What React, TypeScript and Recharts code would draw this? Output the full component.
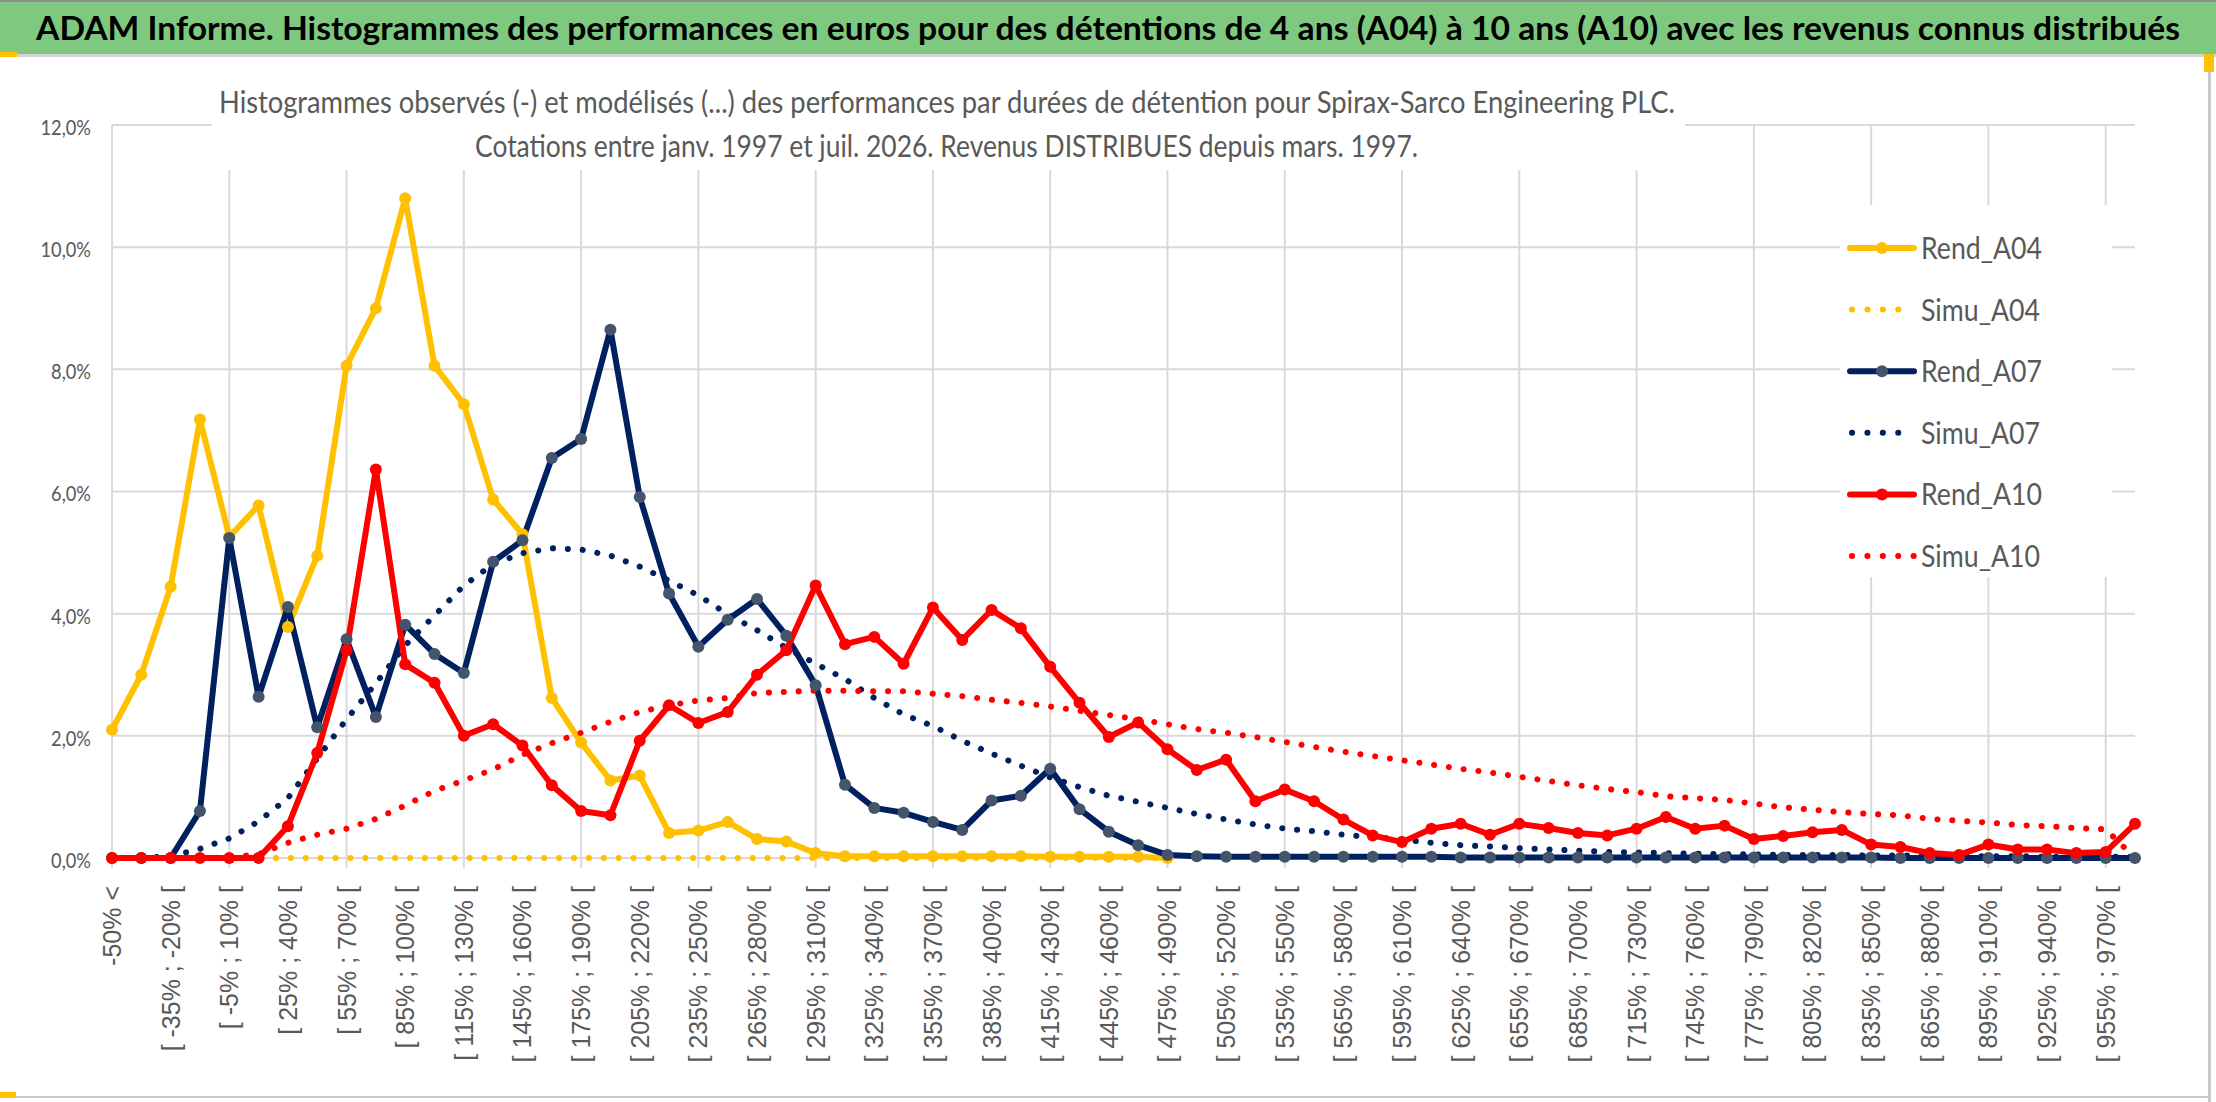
import React from 'react';
import { LineChart, Line, XAxis, YAxis, CartesianGrid } from 'recharts';

const categories = [
  '-50% <', '[ -50% ; -35% [', '[ -35% ; -20% [', '[ -20% ; -5% [', '[ -5% ; 10% [',
  '[ 10% ; 25% [', '[ 25% ; 40% [', '[ 40% ; 55% [', '[ 55% ; 70% [', '[ 70% ; 85% [',
  '[ 85% ; 100% [', '[ 100% ; 115% [', '[ 115% ; 130% [', '[ 130% ; 145% [', '[ 145% ; 160% [',
  '[ 160% ; 175% [', '[ 175% ; 190% [', '[ 190% ; 205% [', '[ 205% ; 220% [', '[ 220% ; 235% [',
  '[ 235% ; 250% [', '[ 250% ; 265% [', '[ 265% ; 280% [', '[ 280% ; 295% [', '[ 295% ; 310% [',
  '[ 310% ; 325% [', '[ 325% ; 340% [', '[ 340% ; 355% [', '[ 355% ; 370% [', '[ 370% ; 385% [',
  '[ 385% ; 400% [', '[ 400% ; 415% [', '[ 415% ; 430% [', '[ 430% ; 445% [', '[ 445% ; 460% [',
  '[ 460% ; 475% [', '[ 475% ; 490% [', '[ 490% ; 505% [', '[ 505% ; 520% [', '[ 520% ; 535% [',
  '[ 535% ; 550% [', '[ 550% ; 565% [', '[ 565% ; 580% [', '[ 580% ; 595% [', '[ 595% ; 610% [',
  '[ 610% ; 625% [', '[ 625% ; 640% [', '[ 640% ; 655% [', '[ 655% ; 670% [', '[ 670% ; 685% [',
  '[ 685% ; 700% [', '[ 700% ; 715% [', '[ 715% ; 730% [', '[ 730% ; 745% [', '[ 745% ; 760% [',
  '[ 760% ; 775% [', '[ 775% ; 790% [', '[ 790% ; 805% [', '[ 805% ; 820% [', '[ 820% ; 835% [',
  '[ 835% ; 850% [', '[ 850% ; 865% [', '[ 865% ; 880% [', '[ 880% ; 895% [', '[ 895% ; 910% [',
  '[ 910% ; 925% [', '[ 925% ; 940% [', '[ 940% ; 955% [', '[ 955% ; 970% [', '[ 970% ; 985% [',
];

// values in %
const rendA04 = [
  2.1, 3.0, 4.44, 7.18, 5.26, 5.77, 3.78, 4.95, 8.06, 9.0,
  10.8, 8.06, 7.43, 5.87, 5.3, 2.62, 1.89, 1.27, 1.35, 0.41,
  0.45, 0.59, 0.31, 0.27, 0.08, 0.03, 0.03, 0.03, 0.03, 0.03,
  0.03, 0.03, 0.02, 0.02, 0.02, 0.02, 0.0,
];

const simuA04 = [
  0, 0, 0, 0, 0, 0, 0, 0, 0, 0,
  0, 0, 0, 0, 0, 0, 0, 0, 0, 0,
  0, 0, 0, 0, 0, 0, 0, 0, 0, 0,
  0, 0, 0, 0, 0, 0, 0,
];

const rendA07 = [
  0, 0, 0, 0.77, 5.24, 2.64, 4.11, 2.14, 3.58, 2.31,
  3.82, 3.34, 3.03, 4.85, 5.2, 6.55, 6.86, 8.65, 5.91, 4.33,
  3.46, 3.9, 4.24, 3.64, 2.83, 1.2, 0.82, 0.74, 0.59, 0.46,
  0.94, 1.02, 1.46, 0.8, 0.43, 0.21, 0.05, 0.03, 0.02, 0.02,
  0.02, 0.02, 0.02, 0.02, 0.02, 0.02, 0.01, 0.01, 0.01, 0.01,
  0.01, 0.01, 0.01, 0.01, 0.01, 0.01, 0.01, 0.01, 0.01, 0.01,
  0.01, 0, 0, 0, 0, 0, 0, 0, 0, 0,
];

const simuA07 = [
  0, 0, 0.03, 0.15, 0.32, 0.6, 0.98, 1.63, 2.27, 2.86,
  3.48, 3.97, 4.46, 4.81, 4.99, 5.07, 5.05, 4.95, 4.77, 4.54,
  4.3, 3.99, 3.73, 3.44, 3.18, 2.93, 2.62, 2.35, 2.16, 1.92,
  1.71, 1.51, 1.32, 1.16, 1.02, 0.92, 0.82, 0.72, 0.63, 0.55,
  0.48, 0.44, 0.38, 0.34, 0.3, 0.25, 0.21, 0.19, 0.16, 0.14,
  0.12, 0.1, 0.09, 0.08, 0.07, 0.06, 0.06, 0.05, 0.05, 0.05,
  0.04, 0.04, 0.04, 0.03, 0.03, 0.03, 0.02, 0.02, 0.02, 0.02,
];

const rendA10 = [
  0, 0, 0, 0, 0, 0, 0.52, 1.72, 3.4, 6.36,
  3.17, 2.87, 2.0, 2.19, 1.84, 1.19, 0.77, 0.7, 1.92, 2.5,
  2.21, 2.39, 3.0, 3.4, 4.46, 3.5, 3.62, 3.18, 4.1, 3.57,
  4.06, 3.76, 3.13, 2.54, 1.98, 2.22, 1.78, 1.44, 1.61, 0.93,
  1.12, 0.93, 0.63, 0.37, 0.26, 0.48, 0.56, 0.38, 0.56, 0.49,
  0.41, 0.37, 0.48, 0.67, 0.48, 0.53, 0.31, 0.36, 0.42, 0.46,
  0.22, 0.18, 0.08, 0.05, 0.22, 0.14, 0.14, 0.08, 0.1, 0.56,
];

const simuA10 = [
  0, 0, 0, 0, 0.01, 0.06, 0.25, 0.38, 0.48, 0.64,
  0.86, 1.1, 1.27, 1.45, 1.69, 1.88, 2.05, 2.23, 2.39, 2.5,
  2.58, 2.62, 2.7, 2.72, 2.74, 2.74, 2.73, 2.73, 2.69, 2.65,
  2.59, 2.54, 2.48, 2.41, 2.34, 2.27, 2.19, 2.11, 2.05, 1.98,
  1.9, 1.82, 1.74, 1.67, 1.6, 1.53, 1.46, 1.4, 1.33, 1.26,
  1.19, 1.13, 1.08, 1.01, 0.98, 0.95, 0.89, 0.83, 0.79, 0.75,
  0.72, 0.7, 0.64, 0.61, 0.58, 0.54, 0.52, 0.49, 0.47, 0,
];

const yTicks = [0, 2, 4, 6, 8, 10, 12];

const seriesInfo = [
  { key: 'rendA04', name: 'Rend_A04', color: '#FFC000', marker: '#FFC000', dotted: false, dots: 0 },
  { key: 'simuA04', name: 'Simu_A04', color: '#FFC000', marker: '', dotted: true, dots: 4 },
  { key: 'rendA07', name: 'Rend_A07', color: '#002060', marker: '#44546A', dotted: false, dots: 0 },
  { key: 'simuA07', name: 'Simu_A07', color: '#002060', marker: '', dotted: true, dots: 4 },
  { key: 'rendA10', name: 'Rend_A10', color: '#FF0000', marker: '#FF0000', dotted: false, dots: 0 },
  { key: 'simuA10', name: 'Simu_A10', color: '#FF0000', marker: '', dotted: true, dots: 5 },
];

const data = categories.map((cat, i) => ({
  cat,
  rendA04: rendA04[i] ?? null,
  simuA04: simuA04[i] ?? null,
  rendA07: rendA07[i] ?? null,
  simuA07: simuA07[i] ?? null,
  rendA10: rendA10[i] ?? null,
  simuA10: simuA10[i] ?? null,
}));

const TITLE =
  'ADAM Informe. Histogrammes des performances en euros pour des détentions de 4 ans (A04) à 10 ans (A10) avec les revenus connus distribués';
const SUB1 =
  'Histogrammes observés (-) et modélisés (...) des performances par durées de détention pour Spirax-Sarco Engineering PLC.';
const SUB2 = 'Cotations entre janv. 1997 et juil. 2026. Revenus DISTRIBUES depuis mars. 1997.';

const FONT = "Lato, 'Open Sans', sans-serif";
const GRID = '#d9d9d9';
const TEXT = '#595959';

// vertical grid every 4 categories
const gridCats = categories.filter((_, i) => i % 4 === 0);

const XTick = (props: any) => {
  const { x, y, payload } = props;
  return (
    <g transform={`translate(${x},${y})`}>
      <text
        transform="rotate(-90)"
        textAnchor="end"
        dy="0.36em"
        fill={TEXT}
        fontSize={25}
        fontFamily="'Liberation Sans', Arial, sans-serif"
      >
        {payload.value}
      </text>
    </g>
  );
};

const YTick = (props: any) => {
  const { x, y, payload } = props;
  return (
    <g transform={`translate(${x},${y})`}>
      <text transform="scale(0.83,1)" textAnchor="end" dy="0.45em" fill={TEXT} fontSize={22} fontFamily={FONT}>
        {`${payload.value.toFixed(1).replace('.', ',')}%`}
      </text>
    </g>
  );
};

export default function App() {
  return (
    <div style={{ position: 'absolute', left: 0, top: 0, width: 2216, height: 1102, overflow: 'hidden', background: '#fff' }}>
      <div style={{ position: 'absolute', left: 0, top: 0 }}>
        <LineChart width={2216} height={1102} data={data} margin={{ top: 125, right: 81, left: 0, bottom: 0 }}>
          <CartesianGrid
            stroke={GRID}
            strokeWidth={2}
            verticalCoordinatesGenerator={({ xAxis, offset }: any) => {
              if (xAxis && typeof xAxis.scale === 'function') {
                return gridCats.map((c) => xAxis.scale(c));
              }
              const step = offset.width / (categories.length - 1);
              return gridCats.map((_, k) => offset.left + k * 4 * step);
            }}
            vertical={(p: any) => (
              <line key={p.key} x1={p.x1} x2={p.x2} y1={p.y1} y2={p.y2 + 10} stroke={GRID} strokeWidth={2} />
            )}
          />
          <XAxis
            dataKey="cat"
            interval={1}
            tick={<XTick />}
            tickLine={false}
            axisLine={false}
            tickSize={0}
            tickMargin={28}
            height={244}
          />
          <YAxis
            domain={[0, 12]}
            ticks={yTicks}
            axisLine={false}
            tickLine={false}
            tickSize={0}
            tickMargin={21}
            width={112}
            tick={<YTick />}
          />
          {seriesInfo.map((s) =>
            s.dotted ? (
              <Line
                key={s.key}
                dataKey={s.key}
                stroke={s.color}
                strokeWidth={6}
                strokeDasharray="0.1 14.8"
                strokeLinecap="round"
                strokeLinejoin="round"
                dot={false}
                activeDot={false}
                isAnimationActive={false}
              />
            ) : (
              <Line
                key={s.key}
                dataKey={s.key}
                stroke={s.color}
                strokeWidth={6}
                strokeLinejoin="round"
                dot={{ r: 6, fill: s.marker, stroke: s.marker, strokeWidth: 0 }}
                activeDot={false}
                isAnimationActive={false}
              />
            )
          )}
        </LineChart>
      </div>

      {/* frame, title, subtitle and legend drawn over the chart */}
      <svg width={2216} height={1102} style={{ position: 'absolute', left: 0, top: 0 }}>
        <rect x={0} y={0} width={2216} height={54} fill="#7EC97F" />
        <rect x={0} y={0} width={2216} height={2} fill="#8c8c8c" />
        <rect x={0} y={54} width={2216} height={3} fill="#d4d4d4" />
        <rect x={0} y={52} width={17} height={5} fill="#FFC000" />
        <rect x={2208} y={57} width={3} height={1045} fill="#c8c8c8" />
        <rect x={2204} y={54} width={10} height={18} fill="#FFC000" />
        <rect x={0} y={1096} width={2210} height={2} fill="#c8c8c8" />
        <rect x={0} y={1092} width={16} height={6} fill="#FFC000" />
        <text x={36} y={40} fontFamily={FONT} fontWeight={700} fontSize={32} fill="#000"
          textLength={2144} lengthAdjust="spacingAndGlyphs">
          {TITLE}
        </text>

        <rect x={212} y={60} width={1473} height={110} fill="#fff" />
        <text x={219} y={113} fontFamily={FONT} fontSize={30} fill={TEXT}
          textLength={1456} lengthAdjust="spacingAndGlyphs">
          {SUB1}
        </text>
        <text x={475} y={157} fontFamily={FONT} fontSize={30} fill={TEXT}
          textLength={943} lengthAdjust="spacingAndGlyphs">
          {SUB2}
        </text>

        <rect x={1840} y={205} width={272} height={372} fill="#fff" />
        {seriesInfo.map((s, i) => {
          const cy = 248 + i * 61.6;
          return (
            <g key={s.key}>
              {s.dotted ? (
                <line x1={1852} y1={cy} x2={1852 + (s.dots - 1) * 15.4 + 0.1} y2={cy} stroke={s.color}
                  strokeWidth={6} strokeLinecap="round" strokeDasharray="0.1 15.3" />
              ) : (
                <g>
                  <line x1={1850} y1={cy} x2={1914} y2={cy} stroke={s.color} strokeWidth={6} strokeLinecap="round" />
                  <circle cx={1882} cy={cy} r={6} fill={s.marker} />
                </g>
              )}
              <text x={1921} y={cy + 11} fontFamily={FONT} fontSize={30} fill={TEXT}
                textLength={s.dotted ? 119 : 121} lengthAdjust="spacingAndGlyphs">
                {s.name}
              </text>
            </g>
          );
        })}
      </svg>
    </div>
  );
}
